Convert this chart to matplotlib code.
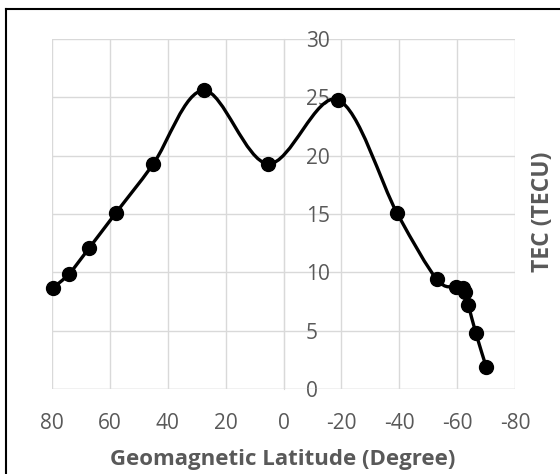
import matplotlib
matplotlib.use('Agg')
import matplotlib.pyplot as plt
from matplotlib.path import Path
from matplotlib.patches import PathPatch
from matplotlib.lines import Line2D
import numpy as np

plt.rcParams['font.family'] = ['Open Sans', 'DejaVu Sans']
plt.rcParams['axes.unicode_minus'] = False

# datos
latitud = [79.5, 74.0, 67.1, 57.9, 45.1, 27.5, 5.3, -18.7, -39.3, -52.9,
           -59.7, -62.0, -62.8, -63.9, -66.5, -70.1]
tec = [8.7, 9.9, 12.1, 15.1, 19.25, 25.6, 19.3, 24.8, 15.05, 9.43,
       8.77, 8.63, 8.33, 7.2, 4.77, 1.86]
xticks = [80, 60, 40, 20, 0, -20, -40, -60, -80]
yticks = [0, 5, 10, 15, 20, 25, 30]

gris = '#595959'

fig = plt.figure(figsize=(5.6, 4.74), dpi=100)
ax = fig.add_axes([52/560, 1-389/474, 463/560, 350/474])

# curva suavizada tipo Excel (Catmull-Rom -> Bezier)
pts = np.column_stack([latitud, tec])
n = len(pts)
verts = [pts[0]]
codes = [Path.MOVETO]
for i in range(n - 1):
    p0 = pts[i - 1] if i > 0 else pts[i]
    p1 = pts[i]
    p2 = pts[i + 1]
    p3 = pts[i + 2] if i + 2 < n else pts[i + 1]
    c1 = p1 + (p2 - p0) / 6
    c2 = p2 - (p3 - p1) / 6
    verts += [c1, c2, p2]
    codes += [Path.CURVE4] * 3
ax.add_patch(PathPatch(Path(verts, codes), fill=False, lw=2.4, ec='black',
                       zorder=3, capstyle='round', joinstyle='round',
                       clip_on=False))
ax.plot(latitud, tec, 'o', color='black', markersize=10, zorder=4,
        clip_on=False)

ax.set_xlim(80, -80)
ax.set_ylim(0, 30)
ax.set_xticks(xticks)
ax.set_yticks(yticks)
ax.grid(True, color='#d9d9d9', lw=1.0)
ax.set_axisbelow(True)

for s in ['top', 'left', 'bottom']:
    ax.spines[s].set_visible(False)
ax.spines['right'].set_position(('data', 0))
ax.spines['right'].set_color('#d9d9d9')
ax.yaxis.set_ticks_position('right')
ax.tick_params(axis='y', length=0, pad=16, labelsize=15, labelcolor=gris)
ax.tick_params(axis='x', length=0, pad=17, labelsize=15, labelcolor=gris)
ax.axhline(0, color='#d9d9d9', lw=1.0, zorder=1)

fig.text(283/560, 1-459/474, 'Geomagnetic Latitude (Degree)', ha='center',
         va='center', fontsize=16, fontweight='bold', color=gris)
fig.text(543/560, 1-212/474, 'TEC (TECU)', ha='center', va='center',
         rotation=90, fontsize=16.5, fontweight='bold', color=gris)

# borde del grafico
fig.add_artist(Line2D([6/560, 6/560], [0, 1-9/474], color='black', lw=1.5,
                      transform=fig.transFigure))
fig.add_artist(Line2D([6/560, 1], [1-9/474, 1-9/474], color='black', lw=1.5,
                      transform=fig.transFigure))

fig.savefig('out.png', dpi=100)
